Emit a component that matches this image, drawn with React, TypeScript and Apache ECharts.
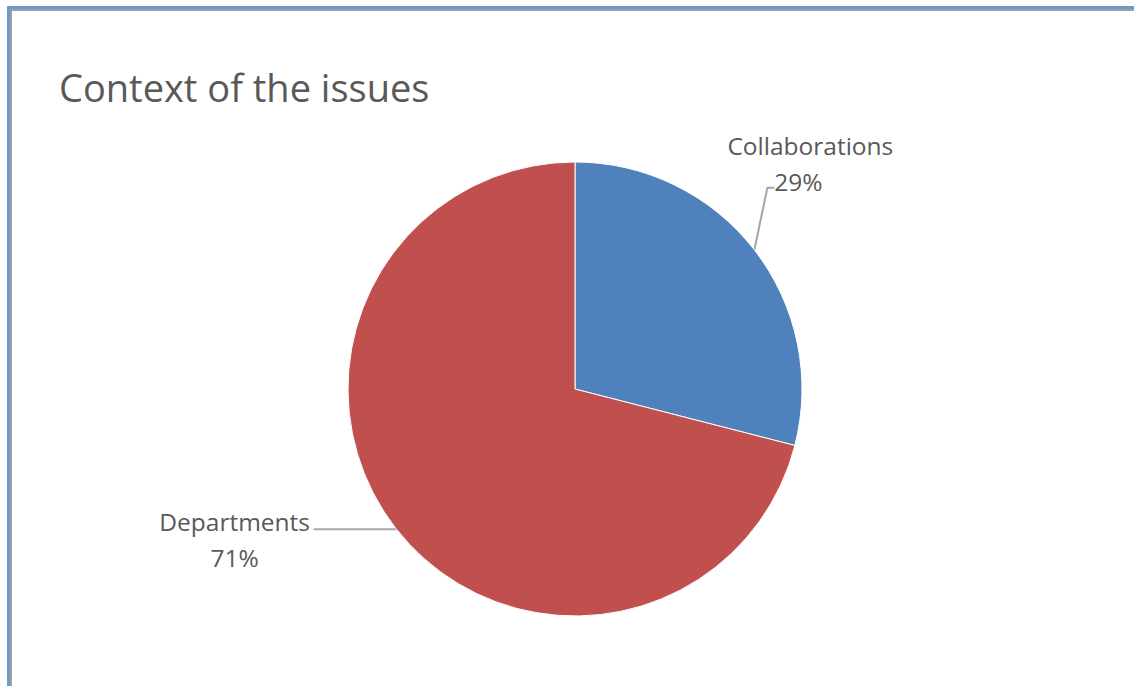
import React, { useEffect, useRef } from "react";
import * as echarts from "echarts";

const titleText = "Context of the issues";
const categories = ["Collaborations", "Departments"];
const values = [29, 71];
const colors = ["#4F81BD", "#C0504D"];

export default function App() {
  const ref = useRef<HTMLDivElement>(null);
  useEffect(() => {
    const chart = echarts.init(ref.current!, null, { renderer: "svg" });
    const font = "'Open Sans', 'Noto Sans', sans-serif";
    chart.setOption({
      animation: false,
      backgroundColor: "#ffffff",
      title: {
        text: titleText,
        left: 54,
        top: 63,
        textStyle: { fontFamily: font, fontSize: 38, fontWeight: "normal", color: "#595959" },
      },
      graphic: [
        { type: "rect", shape: { x: 7, y: 6, width: 1127, height: 3 }, style: { fill: "#6A9BD0" } },
        { type: "rect", shape: { x: 7, y: 9, width: 1127, height: 2 }, style: { fill: "#A0A0A0" } },
        { type: "rect", shape: { x: 7, y: 6, width: 3, height: 680 }, style: { fill: "#6A9BD0" } },
        { type: "rect", shape: { x: 10, y: 9, width: 2, height: 677 }, style: { fill: "#A0A0A0" } },
      ],
      series: [
        {
          type: "pie",
          center: [575, 389],
          radius: 227,
          startAngle: 90,
          clockwise: true,
          data: categories.map((c, i) => ({ name: c, value: values[i], itemStyle: { color: colors[i] } })),
          itemStyle: { borderColor: "#ffffff", borderWidth: 1 },
          label: {
            show: true,
            formatter: (p: any) =>
              p.dataIndex === 0 ? `{n|${p.name}}\n{p0|${p.percent}%}` : `{n|${p.name}}\n{n|${p.percent}%}`,
            fontFamily: font,
            fontSize: 24.5,
            lineHeight: 36,
            color: "#595959",
            align: "center",
            rich: {
              n: { fontFamily: font, fontSize: 24.5, lineHeight: 36, color: "#595959" },
              p0: { fontFamily: font, fontSize: 24.5, lineHeight: 36, color: "#595959", padding: [0, 24, 0, 0] },
            },
          },
          labelLine: { show: true, lineStyle: { color: "#A6A6A6", width: 2 } },
          labelLayout: (params: any) => {
            const p = params.labelLinePoints;
            if (!p) return {};
            const e = p[0];
            if (params.dataIndex === 0) {
              return {
                x: e[0] + 56,
                y: e[1] - 122,
                align: "center",
                verticalAlign: "top",
                labelLinePoints: [e, [e[0] + 13, e[1] - 62], [e[0] + 20, e[1] - 62]],
              };
            }
            return {
              x: e[0] - 161,
              y: e[1] - 25,
              align: "center",
              verticalAlign: "top",
              labelLinePoints: [[e[0] + 1, e[1] + 1], [e[0] - 40, e[1] + 1], [e[0] - 82, e[1] + 1]],
            };
          },
        },
      ],
    });
    return () => chart.dispose();
  }, []);
  return <div ref={ref} style={{ position: "fixed", left: 0, top: 0, width: 1134, height: 686 }} />;
}
